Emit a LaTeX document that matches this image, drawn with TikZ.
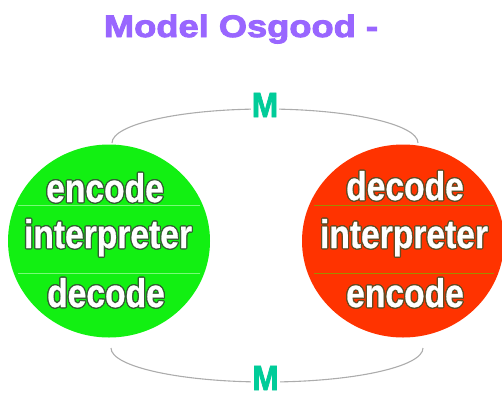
\documentclass[tikz,border=0pt]{standalone}
\usepackage{fontspec}
\usepackage{contour}
\usetikzlibrary{shapes.geometric}
\newfontfamily\labfont{Liberation Sans Bold}[FakeStretch=0.84,FakeBold=0.6]
\newfontfamily\markfont{Liberation Sans Bold}[FakeStretch=0.9,FakeBold=2]
\newfontfamily\headfont{Liberation Sans Bold}[FakeStretch=1.17,FakeBold=3]
\definecolor{osgreen}{RGB}{18,240,18}
\definecolor{osred}{RGB}{255,51,0}
\definecolor{ospurple}{RGB}{153,102,255}
\definecolor{osteal}{RGB}{0,204,153}
\definecolor{sepgreen}{RGB}{120,250,120}
\definecolor{sepolive}{RGB}{160,140,0}
\definecolor{rimgreen}{RGB}{50,95,50}
\definecolor{rimred}{RGB}{100,75,35}
\contourlength{1.2pt}
\begin{document}
\begin{tikzpicture}[x=1pt, y=-1pt,
	disc/.style={ellipse, minimum width=202pt, minimum height=193pt, inner sep=0pt},
	word/.style={anchor=base, text=white, inner sep=0pt, font=\labfont\fontsize{40}{40}\selectfont},
	mlabel/.style={anchor=base, text=osteal, fill=white, inner sep=1pt, font=\markfont\fontsize{35}{35}\selectfont},
	loop/.style={gray!65, line width=1.1pt}]
	\useasboundingbox (0,0) rectangle (502,394);
	\node[anchor=base, text=ospurple, font=\headfont\fontsize{31}{31}\selectfont](title) at (241,37) {Model Osgood -};
	\coordinate (tl) at (112,143);
	\coordinate (bl) at (111,348);
	\draw[loop] (tl) arc[start angle=180, end angle=0, x radius=153pt, y radius=34pt] coordinate (tr);
	\draw[loop] (bl) arc[start angle=180, end angle=360, x radius=156pt, y radius=34pt] coordinate (br);
	\node[disc, fill=osgreen](sender) at (109,241) {};
	\node[disc, fill=osred](receiver) at (403,241) {};
	\draw[sepgreen, line width=1pt] (18,205) coordinate (s1a) -- (200,205) coordinate (s1b);
	\draw[sepgreen, line width=1pt] (18,273) coordinate (s2a) -- (200,273) coordinate (s2b);
	\draw[sepolive, line width=1pt] (314,205) coordinate (r1a) -- (494,205) coordinate (r1b);
	\draw[sepolive, line width=1pt] (314,273) coordinate (r2a) -- (494,273) coordinate (r2b);
	\node[word](encodeL) at (105,202) {\contour{rimgreen}{encode}};
	\node[word](interpL) at (108,248) {\contour{rimgreen}{interpreter}};
	\node[word](decodeL) at (106,307) {\contour{rimgreen}{decode}};
	\node[word](decodeR) at (405,200) {\contour{rimred}{decode}};
	\node[word](interpR) at (404,248) {\contour{rimred}{interpreter}};
	\node[word](encodeR) at (405,307) {\contour{rimred}{encode}};
	\node[mlabel](mtop) at (265,117) {M};
	\node[mlabel](mbot) at (265.5,390) {M};
\end{tikzpicture}
\end{document}
